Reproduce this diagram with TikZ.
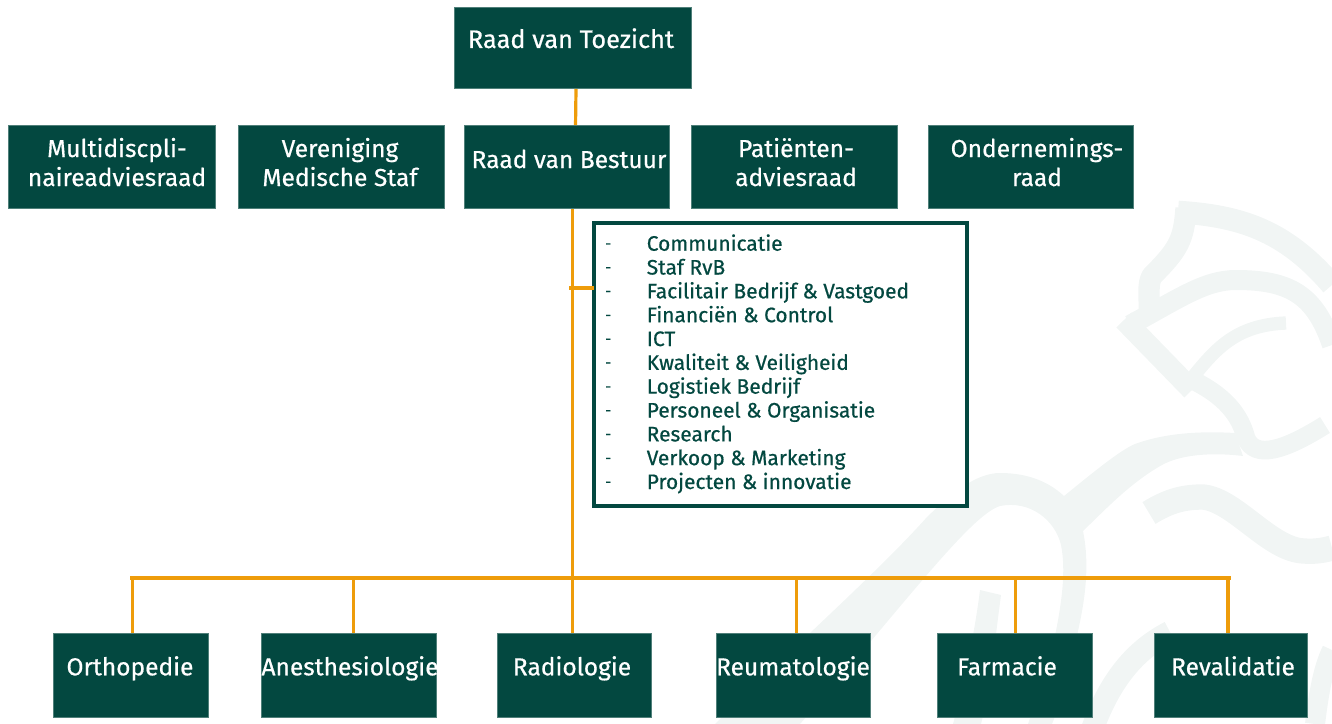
\documentclass[tikz,border=0pt]{standalone}
\usepackage{fontspec}
\newfontfamily\boldish{Fira Sans}[RawFeature={embolden=0.6}]
\definecolor{boxgreen}{HTML}{034840}
\definecolor{linkorange}{HTML}{EE9C0A}
\definecolor{wm}{HTML}{F1F5F4}
\tikzset{
  unit/.style={rectangle,fill=boxgreen,draw=boxgreen!70!white,line width=0.4pt,inner sep=0pt,anchor=north west},
  lab/.style={text=white,font=\boldish\fontsize{18.4}{21.75}\selectfont,align=center,inner sep=0pt},
  link/.style={draw=linkorange,line width=2.7pt},
  thin link/.style={draw=linkorange,line width=2.4pt},
  wmark/.style={draw=wm,line width=15pt,line cap=butt,line join=round},
  itemtxt/.style={text=boxgreen,font=\boldish\fontsize{15.7}{18}\selectfont,anchor=base west,inner sep=0pt},
  itemdash/.style={text=boxgreen,font=\boldish\fontsize{11}{14}\selectfont,anchor=base west,inner sep=0pt},
}
\newcommand{\ls}{\strut}
\begin{document}
\begin{tikzpicture}[x=0.75pt,y=-0.75pt]
\useasboundingbox (0,0) rectangle (1332,724);
% watermark
\draw[wmark,line width=16pt] (1186,208) .. controls (1184,240) and (1178,250) .. (1152,276) .. controls (1147,285) and (1150,295) .. (1149,318);
\draw[wmark,line width=17pt] (1178,212) .. controls (1240,216) and (1285,230) .. (1332,285);
\draw[wmark,line width=15pt] (1130,325) .. controls (1180,298) and (1205,280) .. (1236,280) .. controls (1290,280) and (1315,295) .. (1332,345);
\draw[wmark,line width=16pt] (1124,320) -- (1192,390);
\draw[wmark,line width=10pt] (1192,378) .. controls (1215,350) and (1235,325) .. (1286,323);
\draw[wmark,line width=14pt] (1188,378) .. controls (1225,395) and (1240,415) .. (1246,438) .. controls (1255,460) and (1285,450) .. (1325,425);
\draw[wmark,line width=19pt] (1149,513) .. controls (1170,500) and (1185,497) .. (1203,497) .. controls (1235,500) and (1270,550) .. (1304,551) .. controls (1315,552) and (1325,550) .. (1332,548);
\fill[wm] (715,724) .. controls (790,650) and (880,570) .. (927,517) .. controls (950,495) and (975,473) .. (1000,473) .. controls (1030,473) and (1050,483) .. (1064,496) .. controls (1090,475) and (1120,450) .. (1135,444) .. controls (1165,433) and (1200,431) .. (1235,433) -- (1243,456) .. controls (1210,452) and (1180,455) .. (1162,465) .. controls (1130,483) and (1105,510) .. (1083,531) .. controls (1090,565) and (1085,600) .. (1078,631) .. controls (1072,665) and (1062,700) .. (1052,724) -- (1028,724) .. controls (1040,690) and (1050,660) .. (1056,631) .. controls (1062,600) and (1066,570) .. (1061,545) .. controls (1055,520) and (1030,500) .. (1000,506) .. controls (970,515) and (900,610) .. (800,724) -- cycle;
\fill[wm] (980,590) -- (1001,595) .. controls (995,640) and (990,690) .. (981,724) -- (953,724) .. controls (965,680) and (975,630) .. (980,590) -- cycle;
\draw[wmark,line width=17pt] (1092,730) .. controls (1110,680) and (1135,650) .. (1170,632);
\draw[wmark,line width=15pt] (1332,650) .. controls (1322,670) and (1318,700) .. (1315,724);
% boxes
\node[unit,minimum width=178.1pt,minimum height=61.1pt] (toez) at (454,7) {};
\node[unit,minimum width=155.6pt,minimum height=62.6pt] (mda) at (8,125) {};
\node[unit,minimum width=154.85pt,minimum height=62.6pt] (vms) at (238,125) {};
\node[unit,minimum width=154.1pt,minimum height=62.6pt] (best) at (464,125) {};
\node[unit,minimum width=154.85pt,minimum height=62.6pt] (pat) at (691,125) {};
\node[unit,minimum width=154.1pt,minimum height=62.6pt] (orr) at (928,125) {};
\node[unit,minimum width=116.6pt,minimum height=63.35pt] (orth) at (53,633) {};
\node[unit,minimum width=131.6pt,minimum height=63.35pt] (anes) at (261,633) {};
\node[unit,minimum width=115.85pt,minimum height=63.35pt] (rad) at (497,633) {};
\node[unit,minimum width=115.85pt,minimum height=63.35pt] (reu) at (716,633) {};
\node[unit,minimum width=116.6pt,minimum height=63.35pt] (far) at (937,633) {};
\node[unit,minimum width=115.1pt,minimum height=63.35pt] (rev) at (1153.5,633) {};
% labels
\node[lab] (tl1) at (571,42.2) {\fontsize{19}{21.75}\selectfont\ls Raad van Toezicht};
\node[lab] (tl2) at (117,165.7) {\ls Multidiscpli-\\\ls naireadviesraad};
\node[lab] (tl3) at (340,165.7) {\ls Vereniging\\\ls Medische Staf};
\node[lab] (tl4) at (569,162.2) {\ls Raad van Bestuur};
\node[lab] (tl5) at (796,165.7) {\ls Patiënten-\\\ls adviesraad};
\node[lab] (tl6) at (1037,165.7) {\ls Ondernemings-\\\ls raad};
\node[lab] (tl7) at (130,669.5) {\ls Orthopedie};
\node[lab] (tl8) at (350,669.5) {\ls Anesthesiologie};
\node[lab] (tl9) at (572,669.5) {\ls Radiologie};
\node[lab] (tl10) at (793,669.5) {\ls Reumatologie};
\node[lab] (tl11) at (1007,669.5) {\ls Farmacie};
\node[lab] (tl12) at (1233,669.5) {\ls Revalidatie};
% list box
\node[rectangle,draw=boxgreen,fill=white,line width=3pt,minimum width=279.75pt,minimum height=212.6pt,inner sep=0pt,anchor=north west,outer sep=0pt] (list) at (594,223) {};
\foreach \t [count=\i] in {Communicatie,Staf RvB,Facilitair Bedrijf \& Vastgoed,Financiën \& Control,ICT,Kwaliteit \& Veiligheid,Logistiek Bedrijf,Personeel \& Organisatie,Research,Verkoop \& Marketing,Projecten \& innovatie}{
  \node[itemtxt] (it\i) at (646.5,{250.7+(\i-1)*23.83}) {\t};
  \node[itemdash] (bl\i) at (605,{248.5+(\i-1)*23.83}) {-};
}
% connectors
\coordinate (busL) at (130,578);
\coordinate (busR) at (1231,578);
\coordinate (tap) at (569,288);
\draw[thin link] ([xshift=2.25pt]toez.south) -- ([xshift=6.4pt]best.north);
\draw[thin link] ([xshift=4pt]best.south) -- ([xshift=4pt]best.south |- busL);
\draw[link] (tap) -- (list.west |- tap);
\draw[link] (busL) -- (busR);
\draw[thin link] ([xshift=1pt]orth.north) -- ([xshift=1pt]orth.north |- busL);
\draw[thin link] ([xshift=3.4pt]anes.north) -- ([xshift=3.4pt]anes.north |- busL);
\draw[thin link] ([xshift=-1.4pt]rad.north) -- ([xshift=-1.4pt]rad.north |- busL);
\draw[thin link] ([xshift=2.3pt]reu.north) -- ([xshift=2.3pt]reu.north |- busL);
\draw[thin link] ([xshift=0.4pt]far.north) -- ([xshift=0.4pt]far.north |- busL);
\draw[thin link] ([xshift=-1.9pt]rev.north) -- ([xshift=-1.9pt]rev.north |- busL);
\end{tikzpicture}
\end{document}
